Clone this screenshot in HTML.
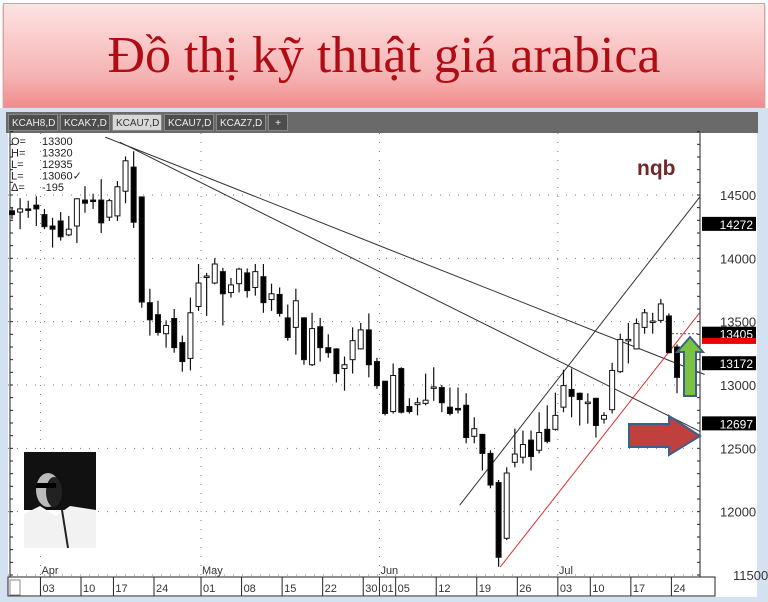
<!DOCTYPE html>
<html><head><meta charset="utf-8">
<style>
html,body{margin:0;padding:0;background:#fff;}
body{width:768px;height:602px;overflow:hidden;position:relative;font-family:"Liberation Sans",sans-serif;}
#banner{position:absolute;left:3px;top:3px;width:760px;height:103px;border:1px solid #d9a0a0;background:linear-gradient(#fde3e3,#f6b3b3 70%,#f08c8c);box-shadow:0 2px 2px #c88;}
#title{position:absolute;left:0;top:22px;width:760px;text-align:center;font-family:"Liberation Serif",serif;font-size:52px;color:#b00c14;line-height:60px;}
#frame{position:absolute;left:0;top:108px;width:768px;height:494px;background:#d3e1f1;}
#tabs{position:absolute;left:6px;top:112px;width:752px;height:21px;background:#6a6a6a;}
.tab{position:absolute;top:2px;height:17px;background:#4d4d4d;color:#eee;font-size:10px;line-height:17px;padding:0 3px;border:1px solid #888;box-sizing:border-box;}
.tab.active{background:#d8d8d8;color:#333;}
svg{position:absolute;left:0;top:0;}
</style></head><body>
<div id="banner"><div id="title">Đồ thị kỹ thuật giá arabica</div></div>
<div id="frame"></div>
<div id="tabs">
<div class="tab" style="left:2px;width:50px">KCAH8,D</div>
<div class="tab" style="left:54px;width:50px">KCAK7,D</div>
<div class="tab active" style="left:106px;width:50px">KCAU7,D</div>
<div class="tab" style="left:158px;width:50px">KCAU7,D</div>
<div class="tab" style="left:210px;width:50px">KCAZ7,D</div>
<div class="tab" style="left:262px;width:20px;text-align:center">+</div>
</div>
<svg id="chart" width="768" height="602"></svg>
<script>
const opens  =[14375,14365,14390,14420,14345,14255,14295,14185,14255,14460,14460,14460,14325,14335,14530,14720,14485,13650,13555,13405,13525,13335,13210,13620,13855,13805,13895,13730,13800,13885,13770,13855,13675,13715,13530,13455,13530,13160,13460,13295,13285,13130,13200,13285,13435,13185,13030,12790,13130,12830,12845,12855,12980,12980,12825,12815,12840,12595,12610,12460,12230,11790,12390,12430,12565,12485,12650,12650,12825,12965,12935,12860,12895,12730,12805,13105,13355,13285,13455,13500,13510,13545,13300];
const highs  =[14400,14475,14455,14490,14390,14320,14365,14335,14475,14570,14510,14625,14470,14610,14805,14845,14485,13760,13665,13510,13600,13390,13690,13955,13885,14000,13925,13845,13925,13920,13955,13955,13800,13770,13635,13760,13535,13570,13530,13400,13290,13225,13455,13490,13565,13215,13030,13170,13140,12895,12900,13090,13140,13000,12980,12980,12935,12745,12615,12485,12250,12350,12655,12640,12640,12785,12840,12940,13120,13130,12940,12935,12895,12785,13175,13405,13490,13525,13600,13570,13680,13565,13320];
const lows   =[14310,14230,14320,14255,14230,14085,14140,14175,14120,14360,14390,14200,14295,14295,14435,14240,13610,13390,13390,13295,13255,13105,13115,13585,13545,13795,13470,13690,13730,13690,13705,13570,13585,13540,13350,13240,13160,13150,13185,13215,13020,12955,13090,13280,13060,12970,12760,12775,12775,12775,12760,12840,12875,12785,12760,12775,12540,12540,12325,12185,11565,11775,12350,12380,12325,12460,12540,12640,12785,12745,12680,12695,12585,12695,12775,13095,13170,13280,13405,13405,13490,13250,12935];
const closes =[14345,14390,14385,14390,14250,14230,14170,14230,14470,14435,14455,14280,14455,14565,14770,14285,13655,13515,13415,13470,13295,13185,13570,13805,13860,13955,13720,13790,13915,13745,13895,13650,13720,13565,13375,13665,13200,13445,13295,13255,13090,13160,13350,13435,13160,12995,12775,13075,12785,12790,12860,12880,12985,12860,12775,12810,12585,12655,12460,12210,11640,12305,12455,12530,12435,12625,12555,12760,12995,12910,12885,12865,12680,12760,13115,13360,13360,13485,13570,13505,13640,13255,13060];
const priceTicks=[11500,12000,12500,13000,13500,14000,14500];
const dateLabels=["03","10","17","24","01","08","15","22","30","01","05","12","19","26","03","10","17","24"];
const dateIdx=[4,9,13,18,23.8,28.8,33.8,38.8,43.8,45.8,47.8,52.8,57.8,62.8,67.8,71.8,76.8,81.8];
const months=["Apr","May","Jun","Jul"];
const monthIdx=[4,23.8,45.8,67.8];
const levelLabels=[14272,13405,13172,12697];
const redLevel=[13340];
const trendUpper=[11.5,14957,85.4,13083];
const trendLower=[13.3,14917,84.8,12634];
const trendUpBlack=[55.2,12051,84.8,14484];
const trendUpRed=[60.2,11563,84.8,13571];

const NS="http://www.w3.org/2000/svg";
const svg=document.getElementById('chart');
const PL=8,PR=700,PT=133,PB=577;
function y(p){return 575-(p-11500)*0.12667;}
function x(i){return 12+i*8.11;}
function mk(t,a,parent){const e=document.createElementNS(NS,t);for(const k in a)e.setAttribute(k,a[k]);(parent||svg).appendChild(e);return e;}

const bg=mk('rect',{x:PL,y:PT,width:749,height:464,fill:'#fff'});


const grid=mk('g',{stroke:'#777','stroke-width':1,'stroke-dasharray':'1,8'});


priceTicks.forEach(p=>{mk('line',{x1:PL,x2:PR,y1:y(p),y2:y(p)},grid);});
monthIdx.forEach(m=>{mk('line',{x1:x(m)-4,x2:x(m)-4,y1:PT,y2:PB},grid);});
mk('line',{x1:PR,x2:PR,y1:PT,y2:PB,stroke:'#222'});
mk('line',{x1:PL+2,x2:PL+2,y1:PT,y2:PB,stroke:'#222'});
for(let p=11500;p<=15000;p+=100){mk('line',{x1:PR-3,x2:PR,y1:y(p),y2:y(p),stroke:'#222'});mk('line',{x1:PL+2,x2:PL+5,y1:y(p),y2:y(p),stroke:'#222'});}
// date axis
mk('rect',{x:PL,y:PB,width:707,height:19,fill:'#fff',stroke:'#222'});
mk('rect',{x:10,y:580,width:10,height:15,fill:'#fff',stroke:'#888'});
dateLabels.forEach((d,k)=>{const xx=x(dateIdx[k])-4;mk('line',{x1:xx,x2:xx,y1:PB,y2:596,stroke:'#222'});
const t=mk('text',{x:xx+2,y:592,'font-size':11,fill:'#333'});t.textContent=d;

});
priceTicks.forEach(p=>{const t=mk('text',{x:p===11500?733:720,y:y(p)+5,'font-size':13,fill:'#333'});t.textContent=p;

});
months.forEach((m,k)=>{const t=mk('text',{x:x(monthIdx[k])-3,y:574,'font-size':11,fill:'#333'});t.textContent=m;

});
function tl(a,c,w,name){const l=mk('line',{x1:x(a[0]),y1:y(a[1]),x2:x(a[2]),y2:y(a[3]),stroke:c,'stroke-width':w});

}
tl(trendUpper,'#333',1,'upper-downtrend-line');
tl(trendLower,'#333',1,'lower-downtrend-line');
tl(trendUpBlack,'#333',1,'uptrend-channel-line');
tl(trendUpRed,'#e03030',1,'uptrend-support-line');
const cg=mk('g',{});


for(let i=0;i<opens.length;i++){
 const g=mk('g',{},cg);
 
 
 const cx=x(i);
 mk('line',{x1:cx,x2:cx,y1:y(highs[i]),y2:y(lows[i]),stroke:'#111','stroke-width':1.2},g);
 const top=Math.min(y(opens[i]),y(closes[i])),h=Math.max(1.5,Math.abs(y(opens[i])-y(closes[i])));
 const up=closes[i]>=opens[i];
 mk('rect',{x:cx-2.5,y:top,width:5,height:h,fill:up?'#fff':'#000',stroke:'#111','stroke-width':1},g);
}
levelLabels.forEach(v=>{const yy=y(v);mk('rect',{x:702,y:yy-7,width:54,height:14,fill:'#000'});
const t=mk('text',{x:753,y:yy+5,'font-size':12,fill:'#fff','text-anchor':'end'});t.textContent=v;

});
mk('rect',{x:702,y:y(redLevel[0])-4,width:54,height:6,fill:'#e00'});
mk('line',{x1:672,x2:PR,y1:y(13405),y2:y(13405),stroke:'#555','stroke-dasharray':'2,2'});
const info=[["O=","13300"],["H=","13320"],["L=","12935"],["L=","13060✓"],["Δ=","  -195"]];
info.forEach((r,k)=>{const a=mk('text',{x:11,y:145+k*11.5,'font-size':11,fill:'#222'});a.textContent=r[0];


const b=mk('text',{x:42,y:145+k*11.5,'font-size':11,fill:'#222'});b.textContent=r[1];

});
const ga=mk('polygon',{points:'690,337 703,352 696,352 696,396 684,396 684,352 677,352',fill:'#7cc242',stroke:'#3d5f8a','stroke-width':2});


const ra=mk('polygon',{points:'629,424 669,424 669,416 700,436 669,455 669,447 629,447',fill:'#c0403e',stroke:'#3d5f8a','stroke-width':2});


const lg=mk('text',{x:637,y:175,'font-size':21,fill:'#6e2a2a','font-weight':'bold'});lg.textContent='nqb';


const pg=mk('g',{});


mk('rect',{x:24,y:452,width:72,height:96,fill:'#fff'},pg);
mk('rect',{x:24,y:452,width:72,height:58,fill:'#111'},pg);
mk('path',{d:'M24,514 L40,506 L56,516 L70,506 L96,510 L96,548 L24,548 Z',fill:'#f2f2f2'},pg);
mk('ellipse',{cx:48,cy:490,rx:12,ry:17,fill:'#bbb'},pg);
mk('ellipse',{cx:54,cy:492,rx:8,ry:15,fill:'#222'},pg);
mk('rect',{x:36,y:483,width:20,height:5,fill:'#000'},pg);
mk('line',{x1:62,y1:510,x2:68,y2:548,stroke:'#222','stroke-width':2},pg);
</script>
</body></html>
